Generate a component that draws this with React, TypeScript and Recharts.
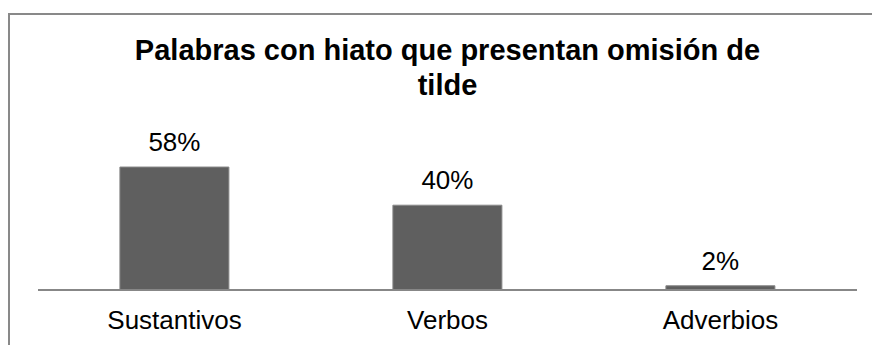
import { BarChart, Bar, XAxis, YAxis, LabelList } from "recharts";

const categories = ["Sustantivos", "Verbos", "Adverbios"];
const percentages = [58, 40, 2];

const data = categories.map((name, i) => ({ name, value: percentages[i] }));

const FONT = "'Liberation Sans', Arial, sans-serif";

export default function App() {
  return (
    <div
      style={{
        position: "absolute",
        left: 0,
        top: 0,
        width: 872,
        height: 345,
        overflow: "hidden",
        background: "#fff",
        fontFamily: FONT,
      }}
    >
      {/* chart frame, only top and left edges fall inside the picture */}
      <div
        style={{
          position: "absolute",
          left: 8,
          top: 13,
          width: 920,
          height: 400,
          border: "2px solid #898989",
          boxSizing: "border-box",
        }}
      />
      <div
        style={{
          position: "absolute",
          left: 0,
          top: 33,
          width: 895,
          textAlign: "center",
          fontWeight: "bold",
          fontSize: 29,
          lineHeight: "35px",
          color: "#000",
        }}
      >
        Palabras con hiato que presentan omisión de
        <br />
        tilde
      </div>
      <div style={{ position: "absolute", left: 0, top: 0 }}>
        <BarChart
          width={872}
          height={345}
          data={data}
          margin={{ top: 78, right: 15, bottom: 0, left: 38 }}
          barCategoryGap="30%"
        >
          <YAxis hide domain={[0, 100]} />
          <XAxis
            dataKey="name"
            height={55}
            tickLine={false}
            tickSize={0}
            tickMargin={21}
            axisLine={{ stroke: "#878787", strokeWidth: 2 }}
            tick={{ fill: "#000", fontSize: 26, fontFamily: FONT }}
          />
          <Bar
            dataKey="value"
            fill="#5f5f5f"
            stroke="#888888"
            strokeWidth={1}
            isAnimationActive={false}
          >
            <LabelList
              dataKey="value"
              position="top"
              offset={16}
              formatter={(v: number) => `${v}%`}
              style={{ fill: "#000", fontSize: 26, fontFamily: FONT }}
            />
          </Bar>
        </BarChart>
      </div>
    </div>
  );
}
